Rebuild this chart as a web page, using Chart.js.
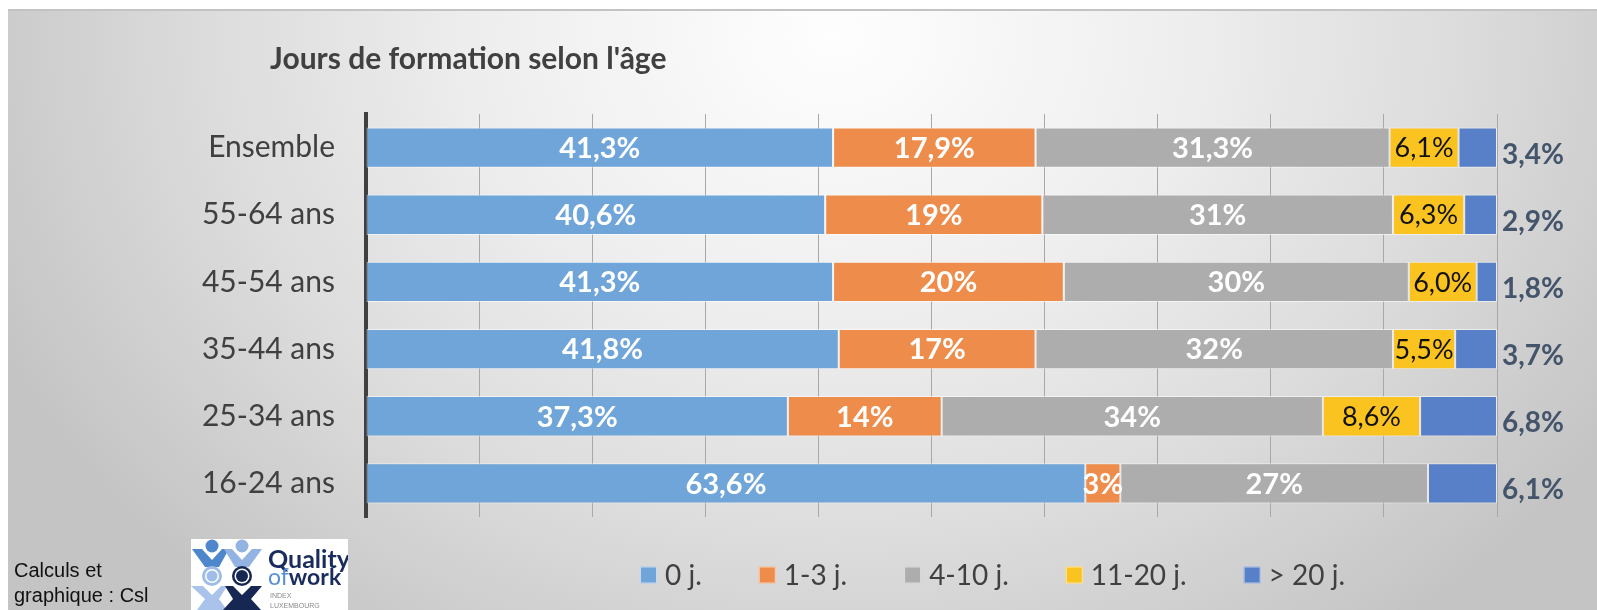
<!DOCTYPE html>
<html><head><meta charset="utf-8">
<script src="https://cdn.jsdelivr.net/npm/chart.js@4.4.1/dist/chart.umd.min.js"></script>
<style>
html,body{margin:0;padding:0;background:#fff;width:1597px;height:610px;overflow:hidden;}
#bg{position:absolute;left:8px;top:9px;width:1589px;height:601px;border-top:2px solid #c3c3c3;box-sizing:border-box;
background:radial-gradient(ellipse 58% 125% at 52% 4%, #fefefe 0%, #eeeeee 38%, #dcdcdc 68%, #c4c4c4 100%);}
#c{position:absolute;left:0;top:0;}
#credit{position:absolute;left:14px;top:558px;font:20px "Liberation Sans",Arial,sans-serif;line-height:25px;color:#111;}
#logo{position:absolute;left:191px;top:539px;}
</style></head><body>
<div id="bg"></div>
<canvas id="c" width="1597" height="610"></canvas>
<div id="credit">Calculs et<br>graphique : Csl</div>
<svg id="logo" width="157" height="71" viewBox="0 0 157 71">
<rect width="157" height="71" fill="#fff"/>
<circle cx="21" cy="7" r="6.5" fill="#4f87cc"/>
<path d="M1 10 L11 10 L21 21 L31 10 L38 10 L28 28 L14 28 Z" fill="#4f87cc"/>
<circle cx="51" cy="7" r="6.5" fill="#93b3e2"/>
<path d="M33 10 L41 10 L51 21 L61 10 L71 10 L58 28 L44 28 Z" fill="#93b3e2"/>
<circle cx="21" cy="37" r="10" fill="#9fbde8"/>
<circle cx="21" cy="37" r="7" fill="#fff"/>
<circle cx="21" cy="37" r="5.5" fill="#9fbde8"/>
<circle cx="51" cy="37" r="10" fill="#162753"/>
<circle cx="51" cy="37" r="7.5" fill="#fff"/>
<circle cx="51" cy="37" r="6" fill="#162753"/>
<path d="M0 47 L12 47 L21 56 L30 47 L36 47 L28 60 L36 71 L6 71 L14 60 Z" fill="#a9c3ea"/>
<path d="M34 47 L42 47 L51 56 L60 47 L71 47 L60 60 L70 71 L32 71 L42 60 Z" fill="#162753"/>
<text x="77" y="29" font-family="Lato" font-weight="bold" font-size="25" fill="#1a2b5e">Quality</text>
<text x="77" y="46" font-family="Lato" font-size="23" fill="#1a2b5e"><tspan fill="#5a8fd6">of</tspan><tspan font-weight="bold">work</tspan></text>
<text x="79" y="59" font-family="Liberation Sans" font-size="7" fill="#8a8a8a">INDEX</text>
<text x="79" y="69" font-family="Liberation Sans" font-size="7" fill="#8a8a8a">LUXEMBOURG</text>
</svg>
<script>
// ---- data ----
const categories = ['Ensemble', '55-64 ans', '45-54 ans', '35-44 ans', '25-34 ans', '16-24 ans'];
const seriesNames = ['0 j.', '1-3 j.', '4-10 j.', '11-20 j.', '> 20 j.'];
const days0 = [41.3, 40.6, 41.3, 41.8, 37.3, 63.6];
const days1to3 = [17.9, 19.2, 20.4, 17.4, 13.6, 3.1];
const days4to10 = [31.3, 31.0, 30.5, 31.6, 33.7, 27.2];
const days11to20 = [6.1, 6.3, 6.0, 5.5, 8.6, 0];
const daysOver20 = [3.4, 2.9, 1.8, 3.7, 6.8, 6.1];
const labels0 = ['41,3%', '40,6%', '41,3%', '41,8%', '37,3%', '63,6%'];
const labels1to3 = ['17,9%', '19%', '20%', '17%', '14%', '3%'];
const labels4to10 = ['31,3%', '31%', '30%', '32%', '34%', '27%'];
const labels11to20 = ['6,1%', '6,3%', '6,0%', '5,5%', '8,6%', ''];
const labelsOver20 = ['3,4%', '2,9%', '1,8%', '3,7%', '6,8%', '6,1%'];
const xMin = 0, xMax = 100, xStep = 10;
const titleText = "Jours de formation selon l'âge";

const FONT = 'Lato, "Open Sans", sans-serif';
const colors = ['#6fa5d8', '#ee8d4b', '#adadad', '#fbc31f', '#5880c8'];
const values = [days0, days1to3, days4to10, days11to20, daysOver20];
const valueLabels = [labels0, labels1to3, labels4to10, labels11to20, labelsOver20];
const labelStyle = [
  {font: 'bold 29px ' + FONT, color: '#ffffff'},
  {font: 'bold 29px ' + FONT, color: '#ffffff'},
  {font: 'bold 29px ' + FONT, color: '#ffffff'},
  {font: '27px ' + FONT, color: '#111111'},
  {font: 'bold 28px ' + FONT, color: '#44546a', outside: true}
];

const segLabels = {
  id: 'segLabels',
  afterDatasetsDraw(chart) {
    const ctx = chart.ctx;
    chart.data.datasets.forEach((ds, i) => {
      const meta = chart.getDatasetMeta(i);
      const st = labelStyle[i];
      meta.data.forEach((el, j) => {
        const txt = valueLabels[i][j];
        if (!txt) return;
        ctx.save();
        ctx.font = st.font;
        ctx.fillStyle = st.color;
        ctx.textBaseline = 'middle';
        if (st.outside) {
          ctx.textAlign = 'left';
          ctx.fillText(txt, chart.chartArea.right + 5, el.y + 7);
        } else {
          ctx.textAlign = 'center';
          ctx.fillText(txt, (el.x + el.base) / 2, el.y + 1);
        }
        ctx.restore();
      });
    });
  }
};

// title starts a little to the right of the category labels
const titleShift = {
  id: 'titleShift',
  afterLayout(chart) {
    if (chart.titleBlock) chart.titleBlock.left = chart.chartArea.left - 96;
  }
};

const bottomLegend = {
  id: 'bottomLegend',
  afterDraw(chart) {
    const ctx = chart.ctx, ca = chart.chartArea;
    ctx.save();
    ctx.font = '28px ' + FONT;
    const box = 17, gap = 8, spacing = 57;
    const items = chart.data.datasets.map(d => ({text: d.label, color: d.backgroundColor, w: ctx.measureText(d.label).width}));
    const total = items.reduce((s, it) => s + box + gap + it.w, 0) + spacing * (items.length - 1);
    let x = (ca.left + ca.right) / 2 + 61 - total / 2;
    const yc = ca.bottom + 58;
    items.forEach(it => {
      ctx.fillStyle = it.color;
      ctx.fillRect(x, yc - box / 2, box, box);
      ctx.strokeStyle = 'rgba(255,255,255,0.6)';
      ctx.lineWidth = 1;
      ctx.strokeRect(x + 0.5, yc - box / 2 + 0.5, box - 1, box - 1);
      ctx.fillStyle = '#404040';
      ctx.textAlign = 'left';
      ctx.textBaseline = 'middle';
      ctx.fillText(it.text, x + box + gap, yc + 1);
      x += box + gap + it.w + spacing;
    });
    ctx.restore();
  }
};

function build() {
  new Chart(document.getElementById('c'), {
    type: 'bar',
    data: {
      labels: categories,
      datasets: seriesNames.map((name, i) => ({
        label: name,
        data: values[i],
        backgroundColor: colors[i],
        borderColor: 'rgba(255,255,255,0.55)',
        borderWidth: 1,
        borderSkipped: false,
        barPercentage: 0.6,
        categoryPercentage: 1.0
      }))
    },
    options: {
      indexAxis: 'y',
      responsive: false,
      animation: false,
      devicePixelRatio: 1,
      layout: {padding: {left: 150, right: 100, top: 0, bottom: 93}},
      scales: {
        x: {
          stacked: true, min: xMin, max: xMax,
          ticks: {display: false, stepSize: xStep},
          grid: {color: '#a8a8a8', lineWidth: 1, drawTicks: false},
          border: {display: false}
        },
        y: {
          stacked: true,
          grid: {display: false, drawTicks: false},
          border: {display: true, color: '#404040', width: 4},
          ticks: {color: '#404040', font: {family: FONT, size: 30}, padding: 31},
          afterFit: s => { s.width = 216; }
        }
      },
      plugins: {
        legend: {display: false},
        tooltip: {enabled: false},
        title: {
          display: true, text: titleText, align: 'start', color: '#404040',
          font: {family: FONT, size: 30, weight: 'bold'},
          padding: {top: 41, bottom: 37}
        }
      }
    },
    plugins: [titleShift, segLabels, bottomLegend]
  });
}
Promise.all([
  document.fonts.load('28px Lato'), document.fonts.load('bold 28px Lato')
]).then(build, build);
</script>
</body></html>
